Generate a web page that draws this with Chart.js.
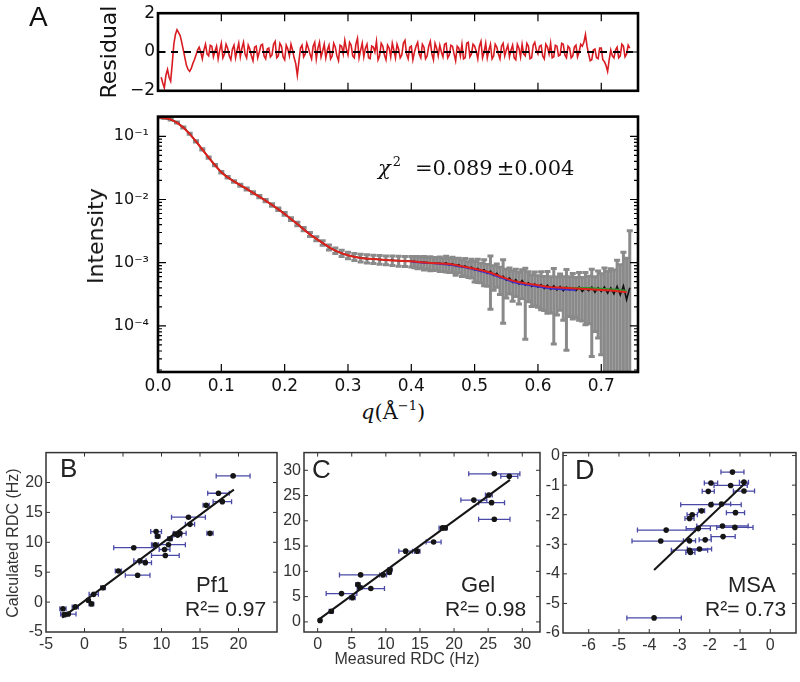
<!DOCTYPE html>
<html>
<head>
<meta charset="utf-8">
<script src="https://cdn.jsdelivr.net/npm/chart.js@4.4.1/dist/chart.umd.min.js"></script>
<style>
  body { margin: 0; background: #fff; }
  #fig { position: relative; width: 800px; height: 682px; overflow: hidden; background: #fff; }
  #fig canvas { position: absolute; }
  .t { position: absolute; white-space: nowrap; line-height: 1; color: #111; }
  .rot { transform: translate(-50%, -50%) rotate(-90deg); }
  .dv { font-family: "DejaVu Sans", sans-serif; }
  .sans { font-family: "Liberation Sans", Arial, sans-serif; color: #222; }
  .serif { font-family: "DejaVu Serif", serif; }
</style>
</head>
<body>
<div id="fig">
  <canvas id="cRes" width="700" height="104" style="left:0;top:0"></canvas>
  <canvas id="cInt" width="700" height="300" style="left:0;top:98px"></canvas>
  <canvas id="cB" width="290" height="230" style="left:0;top:440px"></canvas>
  <canvas id="cC" width="290" height="230" style="left:260px;top:440px"></canvas>
  <canvas id="cD" width="280" height="230" style="left:520px;top:440px"></canvas>

  <div class="t sans" style="left:29px;top:3px;font-size:28px;color:#111">A</div>
  <div class="t dv rot" style="left:109px;top:52px;font-size:22px">Residual</div>
  <div class="t dv rot" style="left:96px;top:236px;font-size:22px">Intensity</div>
  <div class="t serif" style="left:378px;top:158px;font-size:21px">
    <span style="font-style:italic">χ</span><span style="font-size:13px;position:relative;top:-9px;margin-left:2px">2</span><span style="margin-left:14px">=0.089</span><span style="margin-left:4px">±0.004</span>
  </div>
  <div class="t serif" style="left:361px;top:402px;font-size:21px">
    <span style="font-style:italic">q</span>(Å<span style="font-size:13px;position:relative;top:-9px">−1</span>)
  </div>

  <div class="t sans rot" style="left:13px;top:543px;font-size:16px;color:#333">Calculated RDC (Hz)</div>
  <div class="t sans" style="left:407px;top:651px;font-size:16px;color:#333;transform:translateX(-50%)">Measured RDC (Hz)</div>

  <div class="t sans" style="left:60px;top:455px;font-size:26px">B</div>
  <div class="t sans" style="left:196px;top:574px;font-size:22px">Pf1</div>
  <div class="t sans" style="left:185px;top:598px;font-size:21px">R²= 0.97</div>

  <div class="t sans" style="left:312px;top:456px;font-size:26px">C</div>
  <div class="t sans" style="left:461px;top:574px;font-size:22px">Gel</div>
  <div class="t sans" style="left:445px;top:598px;font-size:21px">R²= 0.98</div>

  <div class="t sans" style="left:575px;top:457px;font-size:27px">D</div>
  <div class="t sans" style="left:728px;top:574px;font-size:22px">MSA</div>
  <div class="t sans" style="left:705px;top:598px;font-size:21px">R²= 0.73</div>
</div>

<script>
// ---------- panel A: residual (two interleaved reading grids) ----------
const resQ = [
  0.005,0.01,0.015,0.02,0.025,0.03,0.035,0.04,0.045,0.05,
  0.055,0.06,0.065,0.07,0.075,0.08,0.085,0.09,0.095,0.1,
  0.105,0.11,0.115,0.12,0.125,0.13,0.135,0.14,0.145,0.15,
  0.155,0.16,0.165,0.17,0.175,0.18,0.185,0.19,0.195,0.2,
  0.205,0.21,0.215,0.22,0.225,0.23,0.235,0.24,0.245,0.25,
  0.255,0.26,0.265,0.27,0.275,0.28,0.285,0.29,0.295,0.3,
  0.305,0.31,0.315,0.32,0.325,0.33,0.335,0.34,0.345,0.35,
  0.355,0.36,0.365,0.37,0.375,0.38,0.385,0.39,0.395,0.4,
  0.405,0.41,0.415,0.42,0.425,0.43,0.435,0.44,0.445,0.45,
  0.455,0.46,0.465,0.47,0.475,0.48,0.485,0.49,0.495,0.5,
  0.505,0.51,0.515,0.52,0.525,0.53,0.535,0.54,0.545,0.55,
  0.555,0.56,0.565,0.57,0.575,0.58,0.585,0.59,0.595,0.6,
  0.605,0.61,0.615,0.62,0.625,0.63,0.635,0.64,0.645,0.65,
  0.655,0.66,0.665,0.67,0.675,0.68,0.685,0.69,0.695,0.7,
  0.705,0.71,0.715,0.72,0.725,0.73,0.735,0.74,0.745
];
const resVal = [
  -1.3,-1.85,-0.9,-1.5,0.4,1.15,0.85,0.1,-0.7,-1.0,
  -0.6,-0.15,0.25,-0.35,0.4,-0.2,0.3,0.05,-0.35,0.45,
  -0.1,0.2,-0.4,0.35,0.1,-0.25,0.5,-0.3,0.15,-0.45,
  0.3,0.0,0.4,-0.35,0.2,-0.15,0.55,-0.2,0.3,-0.4,
  0.15,0.4,-0.3,-1.2,0.2,-0.25,0.45,-0.1,0.3,-0.35,
  0.5,0.05,-0.3,0.35,-0.2,0.25,-0.45,0.3,0.6,-0.15,
  0.35,-0.3,0.7,0.1,-0.25,0.4,-0.35,0.25,0.55,-0.2,
  0.3,-0.4,0.2,0.45,-0.3,0.15,-0.15,0.6,-0.35,0.3,
  0.0,0.5,-0.3,0.25,-0.2,0.55,-0.4,0.2,0.35,-0.25,
  0.45,-0.15,0.3,-0.45,0.2,0.4,-0.3,0.5,-0.1,0.3,
  -0.35,0.55,0.0,-0.3,0.4,-0.2,0.25,-0.35,0.45,0.1,
  -0.25,0.35,-0.4,0.2,0.4,-0.2,0.3,-0.3,0.5,-0.1,
  0.35,-0.35,0.25,0.45,-0.25,0.3,-0.15,0.4,-0.3,0.2,
  -0.2,0.35,0.0,0.3,0.9,-0.1,-0.4,0.15,-0.35,0.2,
  -0.5,-1.0,0.1,-0.3,0.25,-0.2,0.3,-0.1,0.2
];
const resQMid = [
  0.0075,0.0125,0.0175,0.0225,0.0275,0.0325,0.0375,0.0425,0.0475,0.0525,
  0.0575,0.0625,0.0675,0.0725,0.0775,0.0825,0.0875,0.0925,0.0975,0.1025,
  0.1075,0.1125,0.1175,0.1225,0.1275,0.1325,0.1375,0.1425,0.1475,0.1525,
  0.1575,0.1625,0.1675,0.1725,0.1775,0.1825,0.1875,0.1925,0.1975,0.2025,
  0.2075,0.2125,0.2175,0.2225,0.2275,0.2325,0.2375,0.2425,0.2475,0.2525,
  0.2575,0.2625,0.2675,0.2725,0.2775,0.2825,0.2875,0.2925,0.2975,0.3025,
  0.3075,0.3125,0.3175,0.3225,0.3275,0.3325,0.3375,0.3425,0.3475,0.3525,
  0.3575,0.3625,0.3675,0.3725,0.3775,0.3825,0.3875,0.3925,0.3975,0.4025,
  0.4075,0.4125,0.4175,0.4225,0.4275,0.4325,0.4375,0.4425,0.4475,0.4525,
  0.4575,0.4625,0.4675,0.4725,0.4775,0.4825,0.4875,0.4925,0.4975,0.5025,
  0.5075,0.5125,0.5175,0.5225,0.5275,0.5325,0.5375,0.5425,0.5475,0.5525,
  0.5575,0.5625,0.5675,0.5725,0.5775,0.5825,0.5875,0.5925,0.5975,0.6025,
  0.6075,0.6125,0.6175,0.6225,0.6275,0.6325,0.6375,0.6425,0.6475,0.6525,
  0.6575,0.6625,0.6675,0.6725,0.6775,0.6825,0.6875,0.6925,0.6975,0.7025,
  0.7075,0.7125,0.7175,0.7225,0.7275,0.7325,0.7375,0.7425
];
const resValMid = [
  -1.6,-1.2,-1.3,-0.6,0.9,1.0,0.5,-0.3,-0.9,-0.85,
  -0.4,0.1,0.0,0.1,-0.1,0.35,-0.25,0.3,0.1,-0.3,
  0.4,-0.2,0.15,-0.3,0.45,0.2,-0.1,0.35,-0.2,0.25,
  -0.3,0.35,-0.2,0.15,-0.25,0.4,-0.3,0.45,-0.25,0.35,
  -0.2,0.1,-0.6,-0.5,0.35,-0.1,0.2,-0.35,0.5,0.2,
  -0.25,0.4,0.1,-0.35,0.45,-0.2,0.35,-0.1,0.15,0.5,
  -0.2,0.4,-0.3,0.45,0.2,-0.3,0.3,0.0,-0.4,0.45,
  -0.15,0.35,-0.25,0.1,0.4,-0.3,0.45,-0.1,0.25,-0.4,
  0.3,-0.1,0.4,-0.35,0.3,-0.1,0.45,-0.2,0.0,0.4,
  -0.3,0.35,-0.1,0.3,-0.2,-0.35,0.45,-0.25,0.4,0.05,
  0.3,-0.3,0.45,0.1,-0.35,0.4,-0.1,0.3,-0.2,0.35,
  0.1,-0.3,0.4,-0.25,-0.1,0.45,-0.35,0.35,0.1,0.3,
  -0.2,0.4,-0.1,-0.3,0.35,-0.2,0.45,-0.15,0.3,-0.3,
  0.25,-0.25,0.4,0.5,0.3,-0.45,0.1,-0.3,0.2,-0.4,
  -0.7,-0.4,-0.2,0.1,-0.3,0.4,-0.25,0.35
];

// ---------- panel A: intensity ----------
const intQ = [
  0,0.01,0.02,0.03,0.04,0.05,0.06,0.07,0.08,0.09,
  0.1,0.11,0.12,0.13,0.14,0.15,0.16,0.17,0.18,0.19,
  0.2,0.21,0.22,0.23,0.24,0.25,0.26,0.27,0.28,0.29,
  0.3,0.31,0.32,0.33,0.34,0.35,0.36,0.37,0.38,0.39,0.4,
  0.405,0.41,0.415,0.42,0.425,0.43,0.435,0.44,0.445,0.45,
  0.455,0.46,0.465,0.47,0.475,0.48,0.485,0.49,0.495,0.5,
  0.505,0.51,0.515,0.52,0.525,0.53,0.535,0.54,0.545,0.55,
  0.555,0.56,0.565,0.57,0.575,0.58,0.585,0.59,0.595,0.6,
  0.605,0.61,0.615,0.62,0.625,0.63,0.635,0.64,0.645,0.65,
  0.655,0.66,0.665,0.67,0.675,0.68,0.685,0.69,0.695,0.7,
  0.705,0.71,0.715,0.72,0.725,0.73,0.735,0.74,0.745
];
const intData = [
  0.200,0.196,0.185,0.165,0.138,0.110,0.083,0.062,0.046,0.035,
  0.027,0.0225,0.0193,0.0168,0.0147,0.0128,0.0111,0.0096,0.0082,0.0070,
  0.0059,0.0049,0.0041,0.0034,0.0028,0.0024,0.00205,0.00175,0.00155,0.00141,
  0.00131,0.00124,0.00119,0.00116,0.00114,0.00112,0.00110,0.00109,0.00107,0.00106,0.00105,
  0.00104,0.00103,0.00102,0.00101,0.00100,0.00099,0.00098,0.00098,0.00098,0.00095,
  0.00099,0.00093,0.00096,0.00090,0.00093,0.00085,0.00089,0.00081,0.00085,0.00077,
  0.00081,0.00073,0.00077,0.00068,0.00073,0.00063,0.00068,0.00058,0.00061,0.00053,
  0.00057,0.00049,0.00054,0.00046,0.00052,0.00044,0.00048,0.00042,0.00046,0.00041,
  0.00045,0.00039,0.00044,0.00038,0.00043,0.00037,0.00042,0.00036,0.00041,0.00037,
  0.00040,0.00036,0.00041,0.00035,0.00040,0.00036,0.00041,0.00034,0.00040,0.00035,
  0.00041,0.00033,0.00040,0.00032,0.00042,0.00031,0.00043,0.00026,0.00040
];
// relative error (sigma / I) of each measured point
const intRelErr = [
  0.02,0.02,0.02,0.02,0.02,0.02,0.02,0.02,0.025,0.025,
  0.03,0.03,0.03,0.035,0.035,0.04,0.04,0.04,0.045,0.045,
  0.05,0.05,0.06,0.06,0.07,0.07,0.08,0.09,0.10,0.11,
  0.12,0.13,0.14,0.15,0.15,0.16,0.16,0.17,0.18,0.18,0.19,
  0.2,0.22,0.19,0.24,0.21,0.25,0.23,0.22,0.26,0.24,
  0.28,0.25,0.27,0.3,0.26,0.29,0.31,0.28,0.33,0.36,
  0.4,0.34,0.44,0.38,0.75,0.42,0.4,0.46,0.82,0.48,
  0.44,0.5,0.46,0.52,0.48,0.86,0.5,0.52,0.55,0.52,
  0.6,0.55,0.64,0.58,0.88,0.6,0.58,0.66,0.9,0.62,
  0.68,0.62,0.7,0.66,0.74,0.7,0.92,0.76,0.84,0.9,
  1.0,1.2,1.0,1.4,1.6,2.0,2.4,3.5,7.0
];
const fitQ = [
  0,0.02,0.04,0.06,0.08,0.1,0.12,0.14,0.16,0.18,
  0.2,0.22,0.24,0.26,0.28,0.3,0.32,0.34,0.36,0.38,
  0.4,0.42,0.44,0.46,0.48,0.5,0.52,0.54,0.56,0.58,
  0.6,0.62,0.64,0.66,0.68,0.7,0.72,0.74
];
const fitRed = [
  0.200,0.185,0.138,0.083,0.046,0.027,0.0193,0.0147,0.0111,0.0082,
  0.0059,0.0041,0.0028,0.00205,0.00155,0.00131,0.00119,0.00114,0.00110,0.00107,
  0.00105,0.00101,0.00098,0.00095,0.00088,0.00080,0.00072,0.00061,0.00052,0.00047,
  0.00044,0.00041,0.00040,0.00039,0.00038,0.00037,0.00036,0.00034
];
const fitBlueQ = [0.40,0.42,0.44,0.46,0.48,0.50,0.52,0.54,0.56,0.58,0.60,0.62,0.64,0.66];
const fitBlue = [0.00104,0.00100,0.00097,0.00093,0.00086,0.00078,0.00069,0.00059,0.00050,0.00045,0.00042,0.00039,0.00038,0.00037];
const fitGreenQ = [0.64,0.66,0.68,0.70,0.72,0.74];
const fitGreen = [0.00041,0.00040,0.00040,0.00039,0.00038,0.00036];

const qTicks = [0,0.1,0.2,0.3,0.4,0.5,0.6,0.7];
const resTicks = [-2,-1,0,1,2];
const intTicks = [1e-4,1e-3,1e-2,1e-1];

// ---------- panels B, C, D (measured, calculated, measured error) ----------
const pf1Meas = [19.3,17.4,17.9,15.8,13.5,13.7,12.4,16.3,11.1,9.3,9.5,10.9,9.2,6.4,10.4,10.5,7.2,7.9,4.4,6.9,2.4,1.2,0.5,0.9,-1.2,-2.8,-2.1,-2.6,12.1,11.8];
const pf1Calc = [21.1,18.2,16.8,16.2,14.2,13.0,11.5,11.5,10.6,11.8,11.0,9.6,9.6,9.1,8.8,7.8,6.9,6.6,5.2,4.5,2.4,1.3,0.3,-0.3,-0.8,-1.1,-2.0,-2.1,11.2,11.4];
const pf1Err  = [2.2,1.4,1.2,0.4,2.2,0.6,0.8,0.4,0.3,0.7,0.3,2.2,0.4,2.6,0.7,1.8,0.8,0.8,0.4,1.6,0.3,0.6,0.2,0.3,0.4,0.4,1.0,0.3,0.5,0.3];
const pf1FitX = [-2.9, 19.4];
const pf1FitY = [-2.6, 18.8];

const gelMeas = [25.9,28.1,25.1,22.9,25.5,25.9,18.3,18.7,17.0,12.9,14.6,10.6,10.5,9.6,6.3,5.9,6.2,7.8,3.5,5.1,2.0,0.35];
const gelCalc = [29.3,28.8,25.1,24.1,23.6,20.3,18.6,18.6,15.8,14.0,14.0,10.3,9.8,9.3,9.3,7.4,6.8,6.6,5.6,4.8,2.1,0.3];
const gelErr  = [3.75,1.25,0.5,1.9,1.9,2.3,0.5,0.3,1.1,1.0,0.4,0.3,0.3,0.5,3.1,0.3,0.3,2.0,2.25,0.4,0.3,0.2];
const gelFitX = [0.35, 28.2];
const gelFitY = [0.64, 28.1];

const msaMeas = [-1.25,-1.96,-1.31,-0.87,-0.87,-2.05,-1.96,-1.61,-1.15,-2.27,-2.58,-2.67,-1.58,-1.17,-3.44,-2.38,-3.62,-2.67,-2.15,-1.56,-2.67,-2.34,-2.64,-3.84];
const msaCalc = [-0.56,-0.93,-1.01,-0.9,-1.2,-1.21,-1.66,-1.64,-1.93,-1.87,-2.0,-2.13,-2.38,-2.43,-2.52,-2.47,-2.89,-2.88,-2.85,-2.74,-3.2,-3.16,-3.28,-5.49];
const msaErr  = [0.38,0.22,0.55,0.15,0.35,0.2,1.0,0.3,0.3,0.1,0.17,0.15,0.85,0.6,0.95,0.4,0.95,0.2,0.2,0.4,0.6,0.4,0.15,0.9];
const msaFitX = [-3.84, -0.8];
const msaFitY = [-3.87, -0.9];

// ====================================================
// Plugins: frame with inward ticks, and error bars
// ====================================================
const frameTicks = {
  id: 'frameTicks',
  afterDatasetsDraw(chart, args, o) {
    const { ctx, chartArea: a } = chart;
    const xs = chart.scales.x, ys = chart.scales.y;
    const seg = (x1, y1, x2, y2) => { ctx.moveTo(x1, y1); ctx.lineTo(x2, y2); };
    ctx.save();
    ctx.strokeStyle = o.color;
    ctx.lineWidth = o.tickWidth;
    ctx.beginPath();
    xs.ticks.forEach(t => {
      const p = xs.getPixelForValue(t.value);
      if (p <= a.left + 1 || p >= a.right - 1) return;
      if (o.xBottom) seg(p, a.bottom, p, a.bottom - o.len);
      if (o.xTop) seg(p, a.top, p, a.top + o.len);
    });
    const yMarks = ys.ticks.map(t => [t.value, o.len]);
    if (o.logMinor) {
      for (let e = -6; e <= 0; e++) {
        for (let d = 2; d <= 9; d++) yMarks.push([d * Math.pow(10, e), o.minorLen]);
      }
    }
    yMarks.forEach(([v, len]) => {
      if (v < ys.min || v > ys.max) return;
      const p = ys.getPixelForValue(v);
      if (p <= a.top + 1 || p >= a.bottom - 1) return;
      seg(a.left, p, a.left + len, p);
      seg(a.right, p, a.right - len, p);
    });
    ctx.stroke();
    ctx.lineWidth = o.frameWidth;
    ctx.strokeRect(a.left, a.top, a.right - a.left, a.bottom - a.top);
    ctx.restore();
  }
};

const errorBars = {
  id: 'errorBars',
  beforeDatasetsDraw(chart) {
    const { ctx, chartArea: a } = chart;
    const xs = chart.scales.x, ys = chart.scales.y;
    ctx.save();
    ctx.beginPath();
    ctx.rect(a.left, a.top, a.right - a.left, a.bottom - a.top);
    ctx.clip();
    chart.data.datasets.forEach(ds => {
      const eb = ds.errorBars;
      if (!eb) return;
      ctx.strokeStyle = eb.color;
      ctx.lineWidth = eb.width;
      ctx.beginPath();
      eb.items.forEach(it => {
        if (eb.dir === 'v') {
          const x = xs.getPixelForValue(it.x);
          const y1 = it.lo > 0 ? ys.getPixelForValue(it.lo) : a.bottom + 10;
          const y2 = ys.getPixelForValue(it.hi);
          ctx.moveTo(x, y1); ctx.lineTo(x, y2);
          ctx.moveTo(x - eb.cap, y1); ctx.lineTo(x + eb.cap, y1);
          ctx.moveTo(x - eb.cap, y2); ctx.lineTo(x + eb.cap, y2);
        } else {
          const y = ys.getPixelForValue(it.y);
          const x1 = xs.getPixelForValue(it.lo);
          const x2 = xs.getPixelForValue(it.hi);
          ctx.moveTo(x1, y); ctx.lineTo(x2, y);
          ctx.moveTo(x1, y - eb.cap); ctx.lineTo(x1, y + eb.cap);
          ctx.moveTo(x2, y - eb.cap); ctx.lineTo(x2, y + eb.cap);
        }
      });
      ctx.stroke();
    });
    ctx.restore();
  }
};

const pts = (xs, ys) => xs.map((x, i) => ({ x: x, y: ys[i] }));
const fixedTicks = vals => scale => { scale.ticks = vals.map(v => ({ value: v })); };
const minus = v => (v < 0 ? '\u2212' + Math.abs(v) : String(v));
const supDigits = { '-': '\u207B', '1': '\u00B9', '2': '\u00B2', '3': '\u00B3', '4': '\u2074', '5': '\u2075' };

const baseOpts = {
  responsive: false,
  animation: false,
  devicePixelRatio: 1,
  plugins: { legend: { display: false }, tooltip: { enabled: false } },
};

// residual points from both grids, in q order
const residualPts = pts(resQ, resVal).concat(pts(resQMid, resValMid)).sort((p, r) => p.x - r.x);

// ---------- residual ----------
new Chart(document.getElementById('cRes'), {
  type: 'line',
  data: {
    datasets: [{
      data: [{ x: 0, y: 0 }, { x: 0.758, y: 0 }],
      borderColor: '#000', borderWidth: 2, borderDash: [7, 6], pointRadius: 0,
    }, {
      data: residualPts,
      borderColor: '#d81c22', borderWidth: 1.6, pointRadius: 0, tension: 0,
    }],
  },
  options: {
    ...baseOpts,
    layout: { padding: { top: 11, right: 62, bottom: 3, left: 0 } },
    plugins: {
      ...baseOpts.plugins,
      frameTicks: { color: '#000', tickWidth: 1.2, len: 8, frameWidth: 2.6, xBottom: true, xTop: true },
    },
    scales: {
      x: { type: 'linear', min: 0, max: 0.758, display: false, afterBuildTicks: fixedTicks(qTicks) },
      y: {
        type: 'linear', min: -2, max: 2,
        afterBuildTicks: fixedTicks(resTicks),
        afterFit: s => { s.width = 158; },
        grid: { display: false, drawTicks: false },
        border: { display: false },
        ticks: { padding: 3, color: '#111', font: { family: 'DejaVu Sans', size: 17 }, callback: minus },
      },
    },
  },
  plugins: [frameTicks],
});

// ---------- intensity ----------
new Chart(document.getElementById('cInt'), {
  type: 'line',
  data: {
    datasets: [{
      data: pts(fitQ, fitRed),
      borderColor: '#e0221c', borderWidth: 2, pointRadius: 0, cubicInterpolationMode: 'monotone',
    }, {
      data: pts(fitGreenQ, fitGreen),
      borderColor: '#2e9a2e', borderWidth: 1.5, pointRadius: 0, cubicInterpolationMode: 'monotone',
    }, {
      data: pts(fitBlueQ, fitBlue),
      borderColor: '#3a2fd0', borderWidth: 2, pointRadius: 0, cubicInterpolationMode: 'monotone',
    }, {
      data: pts(intQ, intData),
      borderColor: '#111', borderWidth: 1.6, pointRadius: 0, tension: 0,
      errorBars: {
        dir: 'v', color: '#8a8a8a', width: 3, cap: 3,
        items: intQ.map((q, i) => ({ x: q, lo: intData[i] * (1 - intRelErr[i]), hi: intData[i] * (1 + intRelErr[i]) })),
      },
    }],
  },
  options: {
    ...baseOpts,
    layout: { padding: { top: 3, right: 62, bottom: 0, left: 0 } },
    plugins: {
      ...baseOpts.plugins,
      frameTicks: { color: '#000', tickWidth: 1.2, len: 8, minorLen: 4, logMinor: true, frameWidth: 2.6, xBottom: true, xTop: false },
    },
    scales: {
      x: {
        type: 'linear', min: 0, max: 0.758,
        afterBuildTicks: fixedTicks(qTicks),
        afterFit: s => { s.height = 26; },
        grid: { display: false, drawTicks: false },
        border: { display: false },
        ticks: { padding: 4, maxRotation: 0, autoSkip: false, color: '#111', font: { family: 'DejaVu Sans', size: 17 }, callback: v => v.toFixed(1) },
      },
      y: {
        type: 'logarithmic', min: 1.86e-5, max: 0.205,
        afterBuildTicks: fixedTicks(intTicks),
        afterFit: s => { s.width = 158; },
        grid: { display: false, drawTicks: false },
        border: { display: false },
        ticks: {
          padding: 9, autoSkip: false, color: '#111', font: { family: 'DejaVu Sans', size: 16 },
          callback: v => '10' + String(Math.round(Math.log10(v))).split('').map(c => supDigits[c]).join(''),
        },
      },
    },
  },
  plugins: [errorBars, frameTicks],
});

// ---------- RDC panels ----------
function rdcChart(id, meas, calc, err, fitX, fitY, cfg) {
  return new Chart(document.getElementById(id), {
    type: 'scatter',
    data: {
      datasets: [{
        type: 'line',
        data: pts(fitX, fitY),
        borderColor: '#151515', borderWidth: 2, pointRadius: 0,
      }, {
        data: pts(meas, calc),
        pointRadius: 2.8, pointBackgroundColor: '#151515', pointBorderWidth: 0,
        errorBars: {
          dir: 'h', color: '#4a4aa6', width: 1.3, cap: 2.5,
          items: meas.map((m, i) => ({ y: calc[i], lo: m - err[i], hi: m + err[i] })),
        },
      }],
    },
    options: {
      ...baseOpts,
      layout: { padding: { top: cfg.top, right: cfg.right, bottom: 0, left: 0 } },
      plugins: {
        ...baseOpts.plugins,
        frameTicks: { color: '#333', tickWidth: 1, len: 4, frameWidth: 1.5, xBottom: true, xTop: true },
      },
      scales: {
        x: {
          type: 'linear', min: cfg.xMin, max: cfg.xMax,
          afterBuildTicks: fixedTicks(cfg.xTicks),
          afterFit: s => { s.height = cfg.xH; },
          grid: { display: false, drawTicks: false },
          border: { display: false },
          ticks: { padding: 3, maxRotation: 0, autoSkip: false, color: '#333', font: { family: 'Liberation Sans', size: 16 } },
        },
        y: {
          type: 'linear', min: cfg.yMin, max: cfg.yMax,
          afterBuildTicks: fixedTicks(cfg.yTicks),
          afterFit: s => { s.width = cfg.yW; },
          grid: { display: false, drawTicks: false },
          border: { display: false },
          ticks: { padding: 3, autoSkip: false, color: '#333', font: { family: 'Liberation Sans', size: 16 } },
        },
      },
    },
    plugins: [errorBars, frameTicks],
  });
}

rdcChart('cB', pf1Meas, pf1Calc, pf1Err, pf1FitX, pf1FitY, {
  top: 7, right: 13, xH: 38, yW: 46,
  xMin: -5, xMax: 25, yMin: -5, yMax: 25,
  xTicks: [-5, 0, 5, 10, 15, 20], yTicks: [-5, 0, 5, 10, 15, 20],
});
rdcChart('cC', gelMeas, gelCalc, gelErr, gelFitX, gelFitY, {
  top: 8, right: 10, xH: 38, yW: 44,
  xMin: -2, xMax: 32.6, yMin: -2, yMax: 33.5,
  xTicks: [0, 5, 10, 15, 20, 25, 30], yTicks: [0, 5, 10, 15, 20, 25, 30],
});
rdcChart('cD', msaMeas, msaCalc, msaErr, msaFitX, msaFitY, {
  top: 10, right: 2, xH: 37, yW: 43,
  xMin: -6.85, xMax: 0.85, yMin: -6, yMax: 0.1,
  xTicks: [-6, -5, -4, -3, -2, -1, 0], yTicks: [-6, -5, -4, -3, -2, -1, 0],
});
</script>
</body>
</html>
